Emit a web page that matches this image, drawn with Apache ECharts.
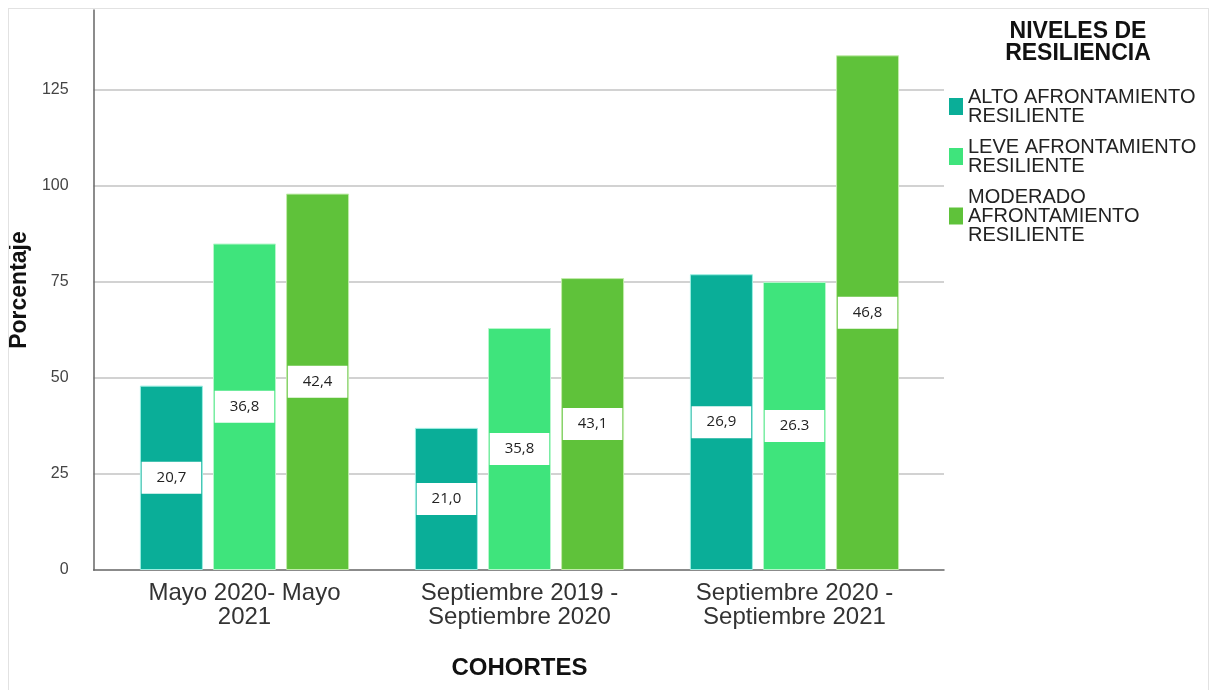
<!DOCTYPE html>
<html>
<head>
<meta charset="utf-8">
<script src="https://cdn.jsdelivr.net/npm/echarts@6/dist/echarts.min.js"></script>
<style>
html,body{margin:0;padding:0;background:#fff;}
#chart{width:1213px;height:690px;}
#frame{position:absolute;left:8px;top:8px;width:1199px;height:700px;border:1px solid #e2e2e2;pointer-events:none;}
</style>
</head>
<body>
<div id="chart"></div>
<div id="frame"></div>
<script>
const categories = ['Mayo 2020- Mayo\n2021', 'Septiembre 2019 -\nSeptiembre 2020', 'Septiembre 2020 -\nSeptiembre 2021'];
const seriesNames = ['ALTO AFRONTAMIENTO RESILIENTE', 'LEVE AFRONTAMIENTO RESILIENTE', 'MODERADO AFRONTAMIENTO RESILIENTE'];
const legendLabels = ['ALTO AFRONTAMIENTO\nRESILIENTE', 'LEVE AFRONTAMIENTO\nRESILIENTE', 'MODERADO\nAFRONTAMIENTO\nRESILIENTE'];
const alto = [48, 37, 77];
const leve = [85, 63, 75];
const moderado = [98, 76, 134];
const altoLabels = ['20,7', '21,0', '26,9'];
const leveLabels = ['36,8', '35,8', '26.3'];
const moderadoLabels = ['42,4', '43,1', '46,8'];
const yTicks = [0, 25, 50, 75, 100, 125];
const yMax = 145.8;

const colors = ['#0aae98', '#3fe47c', '#5fc23a'];
const borders = ['#9cefe2', '#b6f7cb', '#c2ecab'];

const chart = echarts.init(document.getElementById('chart'));

function makeSeries(i, values, labels) {
  return {
    name: seriesNames[i],
    type: 'bar',
    xAxisIndex: 1,
    yAxisIndex: 1,
    barWidth: 63,
    barGap: '16%',
    data: values,
    itemStyle: { color: colors[i], borderColor: borders[i], borderWidth: 1 },
    label: {
      show: true,
      position: 'inside',
      formatter: p => labels[p.dataIndex],
      backgroundColor: '#ffffff',
      padding: [8, 15],
      fontFamily: 'Open Sans',
      fontSize: 15,
      lineHeight: 16,
      color: '#222'
    }
  };
}

chart.setOption({
  animation: false,
  textStyle: { fontFamily: 'Liberation Sans, Arial, sans-serif' },
  title: {
    text: 'NIVELES DE\nRESILIENCIA',
    left: 1073,
    top: 16,
    textAlign: 'center',
    textStyle: { fontSize: 23, fontWeight: 'bold', lineHeight: 22, color: '#111', fontFamily: 'Liberation Sans' }
  },
  legend: {
    orient: 'vertical',
    left: 944,
    top: 82,
    itemWidth: 14,
    itemHeight: 17,
    itemGap: 11,
    icon: 'rect',
    data: seriesNames,
    itemStyle: { borderWidth: 0 },
    formatter: name => legendLabels[seriesNames.indexOf(name)],
    textStyle: { fontSize: 20, lineHeight: 19, color: '#222', fontFamily: 'Liberation Sans' }
  },
  grid: [
    { left: 93, right: 269, top: 10, bottom: 120 },
    { left: 107, right: 281, top: 10, bottom: 120 }
  ],
  xAxis: [
    {
      gridIndex: 0, type: 'value', min: 0, max: 1,
      axisLine: { show: true, lineStyle: { color: '#666', width: 1.5 } },
      axisTick: { show: false }, axisLabel: { show: false }, splitLine: { show: false }
    },
    {
      gridIndex: 1, type: 'category', data: categories,
      axisLine: { show: false }, axisTick: { show: false },
      axisLabel: { interval: 0, margin: 11, fontSize: 24, lineHeight: 24, color: '#333' },
      name: 'COHORTES', nameLocation: 'middle', nameGap: 86,
      nameTextStyle: { fontSize: 24, fontWeight: 'bold', color: '#111' }
    }
  ],
  yAxis: [
    {
      gridIndex: 0, type: 'value', min: 0, max: yMax, interval: 25,
      axisLine: { show: true, lineStyle: { color: '#666', width: 1.5 } },
      axisTick: { show: false },
      axisLabel: {
        margin: 25, fontSize: 16, color: '#444',
        formatter: v => (yTicks.indexOf(v) >= 0 ? String(v) : '')
      },
      splitLine: { show: true, showMaxLine: false, showMinLine: false, lineStyle: { color: '#d2d2d2', width: 2 } },
      name: 'Porcentaje', nameLocation: 'middle', nameGap: 60,
      nameTextStyle: { fontSize: 23, fontWeight: 'bold', color: '#111' }
    },
    {
      gridIndex: 1, type: 'value', min: 0, max: yMax, interval: 25, show: false
    }
  ],
  series: [
    makeSeries(0, alto, altoLabels),
    makeSeries(1, leve, leveLabels),
    makeSeries(2, moderado, moderadoLabels)
  ]
});
</script>
</body>
</html>
